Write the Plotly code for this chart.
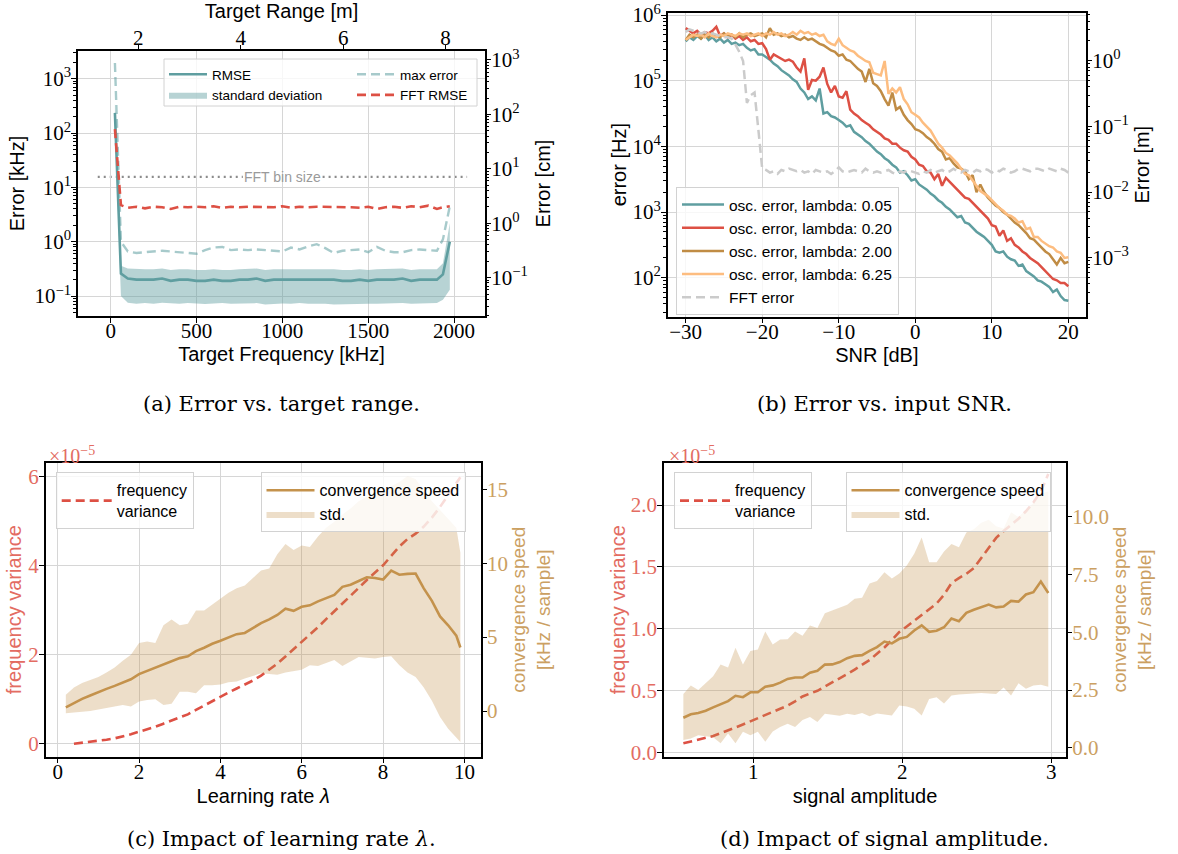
import math
import plotly.graph_objects as go

# ---------------- panel (a): error vs target range ----------------
freq_khz = [25, 60, 100, 150, 200, 250, 300, 350, 400, 450,
            500, 550, 600, 650, 700, 750, 800, 850, 900, 950,
            1000, 1050, 1100, 1150, 1200, 1250, 1300, 1350, 1400, 1450,
            1500, 1550, 1600, 1650, 1700, 1750, 1800, 1850, 1900, 1935, 1975]
rmse_khz = [235, 0.26, 0.21, 0.20, 0.20, 0.20, 0.21, 0.19, 0.20, 0.20,
            0.19, 0.19, 0.20, 0.19, 0.19, 0.20, 0.20, 0.21, 0.19, 0.20,
            0.20, 0.20, 0.20, 0.20, 0.20, 0.20, 0.20, 0.19, 0.19, 0.20,
            0.19, 0.20, 0.20, 0.20, 0.21, 0.19, 0.20, 0.20, 0.20, 0.25, 1.0]
std_low_khz = [120, 0.10, 0.075, 0.072, 0.074, 0.072, 0.075, 0.073, 0.072, 0.074,
               0.072, 0.071, 0.073, 0.074, 0.072, 0.073, 0.072, 0.074, 0.070, 0.072,
               0.073, 0.072, 0.074, 0.072, 0.073, 0.072, 0.070, 0.071, 0.072, 0.073,
               0.072, 0.072, 0.073, 0.072, 0.074, 0.072, 0.073, 0.072, 0.074, 0.085, 0.13]
std_high_khz = [350, 0.36, 0.32, 0.31, 0.31, 0.31, 0.32, 0.30, 0.31, 0.31,
                0.30, 0.30, 0.31, 0.30, 0.30, 0.31, 0.31, 0.32, 0.30, 0.31,
                0.31, 0.31, 0.31, 0.31, 0.31, 0.31, 0.31, 0.30, 0.30, 0.31,
                0.30, 0.31, 0.31, 0.31, 0.32, 0.30, 0.31, 0.31, 0.31, 0.40, 2.2]
max_err_khz = [1950, 1.0, 0.66, 0.62, 0.64, 0.66, 0.68, 0.66, 0.64, 0.63,
               0.60, 0.70, 0.78, 0.80, 0.70, 0.72, 0.70, 0.72, 0.70, 0.68,
               0.66, 0.78, 0.72, 0.82, 0.90, 0.76, 0.62, 0.68, 0.70, 0.72,
               0.64, 0.80, 0.68, 0.64, 0.64, 0.70, 0.72, 0.70, 0.68, 1.10, 4.5]
fft_rmse_khz = [118, 4.7, 4.2, 4.4, 4.1, 4.4, 4.3, 4.0, 4.4, 4.3,
                4.4, 4.3, 4.5, 4.2, 4.4, 4.3, 4.4, 4.4, 4.3, 4.3,
                4.5, 4.2, 4.4, 4.3, 4.4, 4.4, 4.3, 4.4, 4.3, 4.2,
                4.4, 4.0, 4.3, 4.4, 4.2, 4.5, 4.3, 4.6, 4.0, 4.3, 4.5]
fft_bin_khz = 15.625
a_freq_ticks = [0, 500, 1000, 1500, 2000]
a_range_ticks = [2, 4, 6, 8]

# ---------------- panel (b): error vs SNR (log10 of error in Hz) ----------------
snr_db = [-30.0, -29.5, -29.0, -28.5, -28.0, -27.5, -27.0, -26.5, -26.0, -25.5,
          -25.0, -24.5, -24.0, -23.5, -23.0, -22.5, -22.0, -21.5, -21.0, -20.5,
          -20.0, -19.5, -19.0, -18.5, -18.0, -17.5, -17.0, -16.5, -16.0, -15.5,
          -15.0, -14.5, -14.0, -13.5, -13.0, -12.5, -12.0, -11.5, -11.0, -10.5,
          -10.0, -9.5, -9.0, -8.5, -8.0, -7.5, -7.0, -6.5, -6.0, -5.5,
          -5.0, -4.5, -4.0, -3.5, -3.0, -2.5, -2.0, -1.5, -1.0, -0.5,
          0.0, 0.5, 1.0, 1.5, 2.0, 2.5, 3.0, 3.5, 4.0, 4.5,
          5.0, 5.5, 6.0, 6.5, 7.0, 7.5, 8.0, 8.5, 9.0, 9.5,
          10.0, 10.5, 11.0, 11.5, 12.0, 12.5, 13.0, 13.5, 14.0, 14.5,
          15.0, 15.5, 16.0, 16.5, 17.0, 17.5, 18.0, 18.5, 19.0, 19.5,
          20.0]
log_err_l005 = [5.60, 5.66, 5.62, 5.68, 5.64, 5.70, 5.62, 5.66, 5.60, 5.64,
                5.58, 5.62, 5.56, 5.58, 5.54, 5.56, 5.50, 5.46, 5.48, 5.40,
                5.40, 5.36, 5.32, 5.26, 5.22, 5.16, 5.12, 5.08, 5.02, 4.98,
                4.88, 4.82, 4.72, 4.76, 4.70, 4.88, 4.50, 4.52, 4.46, 4.44,
                4.40, 4.36, 4.30, 4.32, 4.22, 4.18, 4.14, 4.08, 4.04, 3.98,
                3.92, 3.88, 3.82, 3.78, 3.72, 3.68, 3.60, 3.62, 3.56, 3.48,
                3.50, 3.42, 3.38, 3.34, 3.28, 3.24, 3.18, 3.14, 3.08, 3.04,
                2.98, 2.92, 2.94, 2.84, 2.82, 2.76, 2.70, 2.66, 2.62, 2.56,
                2.50, 2.40, 2.38, 2.40, 2.32, 2.28, 2.26, 2.18, 2.20, 2.10,
                2.06, 2.02, 1.96, 1.94, 1.90, 1.86, 1.78, 1.82, 1.72, 1.66,
                1.65]
log_err_l020 = [5.80, 5.76, 5.72, 5.76, 5.70, 5.74, 5.72, 5.76, 5.82, 5.68,
                5.72, 5.66, 5.70, 5.64, 5.68, 5.62, 5.66, 5.60, 5.62, 5.56,
                5.57, 5.48, 5.32, 5.40, 5.37, 5.34, 5.30, 5.32, 5.29, 5.20,
                5.14, 5.34, 4.86, 5.01, 5.00, 5.06, 5.20, 4.95, 4.82, 4.92,
                4.76, 4.74, 4.84, 4.56, 4.50, 4.46, 4.40, 4.36, 4.32, 4.26,
                4.22, 4.18, 4.12, 4.10, 4.04, 4.04, 3.98, 3.94, 3.92, 3.84,
                3.80, 3.72, 3.70, 3.62, 3.60, 3.50, 3.58, 3.40, 3.52, 3.46,
                3.40, 3.34, 3.28, 3.22, 3.20, 3.14, 3.08, 3.02, 2.96, 2.90,
                2.80, 2.78, 2.64, 2.72, 2.56, 2.60, 2.50, 2.46, 2.40, 2.36,
                2.30, 2.26, 2.22, 2.16, 2.10, 2.04, 1.98, 1.96, 1.92, 1.92,
                1.87]
log_err_l200 = [5.62, 5.70, 5.66, 5.70, 5.64, 5.70, 5.66, 5.72, 5.68, 5.66,
                5.72, 5.68, 5.70, 5.66, 5.72, 5.66, 5.70, 5.72, 5.68, 5.70,
                5.72, 5.66, 5.80, 5.70, 5.72, 5.68, 5.70, 5.66, 5.68, 5.64,
                5.62, 5.66, 5.62, 5.64, 5.60, 5.56, 5.54, 5.50, 5.46, 5.44,
                5.38, 5.40, 5.32, 5.30, 5.24, 5.18, 5.14, 4.98, 5.18, 4.96,
                4.92, 4.84, 4.72, 4.62, 4.82, 4.56, 4.60, 4.48, 4.40, 4.34,
                4.26, 4.24, 4.20, 4.14, 4.10, 4.04, 3.96, 3.92, 3.80, 3.82,
                3.74, 3.68, 3.66, 3.62, 3.50, 3.56, 3.30, 3.42, 3.30, 3.22,
                3.16, 3.10, 3.06, 3.00, 2.96, 2.90, 2.84, 2.80, 2.74, 2.68,
                2.60, 2.58, 2.52, 2.46, 2.40, 2.36, 2.28, 2.20, 2.30, 2.22,
                2.24]
log_err_l625 = [5.62, 5.66, 5.70, 5.68, 5.70, 5.66, 5.72, 5.68, 5.66, 5.70,
                5.68, 5.72, 5.70, 5.68, 5.72, 5.70, 5.72, 5.68, 5.70, 5.72,
                5.68, 5.72, 5.70, 5.74, 5.70, 5.72, 5.68, 5.70, 5.74, 5.70,
                5.76, 5.72, 5.74, 5.70, 5.72, 5.68, 5.70, 5.60, 5.56, 5.54,
                5.64, 5.54, 5.50, 5.46, 5.44, 5.38, 5.34, 5.30, 5.28, 5.12,
                5.10, 5.08, 5.30, 4.80, 4.88, 4.82, 4.90, 4.72, 4.64, 4.52,
                4.48, 4.44, 4.36, 4.30, 4.24, 4.14, 4.04, 3.98, 3.90, 3.86,
                3.80, 3.74, 3.66, 3.58, 3.56, 3.48, 3.40, 3.32, 3.28, 3.24,
                3.18, 3.12, 3.06, 3.02, 2.96, 2.94, 2.90, 2.84, 2.86, 2.74,
                2.76, 2.62, 2.62, 2.56, 2.52, 2.48, 2.46, 2.40, 2.38, 2.30,
                2.31]
log_err_fft = [5.74, 5.78, 5.76, 5.74, 5.72, 5.74, 5.70, 5.72, 5.70, 5.68,
               5.66, 5.66, 5.64, 5.55, 5.44, 5.30, 4.66, 4.78, 4.82, 4.25,
               3.66, 3.64, 3.60, 3.62, 3.58, 3.64, 3.62, 3.66, 3.64, 3.62,
               3.64, 3.60, 3.62, 3.58, 3.64, 3.62, 3.60, 3.62, 3.58, 3.62,
               3.68, 3.62, 3.60, 3.62, 3.64, 3.62, 3.60, 3.66, 3.62, 3.60,
               3.62, 3.60, 3.62, 3.64, 3.60, 3.58, 3.62, 3.60, 3.64, 3.62,
               3.60, 3.58, 3.62, 3.60, 3.64, 3.60, 3.62, 3.64, 3.60, 3.62,
               3.66, 3.62, 3.60, 3.64, 3.62, 3.60, 3.64, 3.62, 3.66, 3.64,
               3.60, 3.64, 3.62, 3.66, 3.64, 3.60, 3.62, 3.66, 3.66, 3.64,
               3.62, 3.66, 3.66, 3.64, 3.62, 3.66, 3.64, 3.62, 3.66, 3.64,
               3.60]
b_series_names = ["osc. error, lambda: 0.05", "osc. error, lambda: 0.20",
                  "osc. error, lambda: 2.00", "osc. error, lambda: 6.25", "FFT error"]
b_snr_ticks = [-30, -20, -10, 0, 10, 20]

# ---------------- panel (c): impact of learning rate ----------------
learning_rate = [0.2, 0.4, 0.6, 0.8, 1.0, 1.2, 1.4, 1.6, 1.8, 2.0,
                 2.2, 2.4, 2.6, 2.8, 3.0, 3.2, 3.4, 3.6, 3.8, 4.0,
                 4.2, 4.4, 4.6, 4.8, 5.0, 5.2, 5.4, 5.6, 5.8, 6.0,
                 6.2, 6.4, 6.6, 6.8, 7.0, 7.2, 7.4, 7.6, 7.8, 8.0,
                 8.2, 8.4, 8.6, 8.8, 9.0, 9.2, 9.4, 9.6, 9.8, 9.9]
lr_conv_speed = [0.25, 0.55, 0.82, 1.05, 1.30, 1.50, 1.70, 1.95, 2.15, 2.50,
                 2.72, 2.90, 3.12, 3.38, 3.58, 3.70, 4.05, 4.28, 4.55, 4.75,
                 4.95, 5.20, 5.28, 5.60, 5.95, 6.20, 6.50, 6.92, 6.78, 7.05,
                 7.15, 7.42, 7.62, 7.85, 8.40, 8.55, 8.80, 9.05, 9.00, 8.90,
                 9.50, 9.22, 9.28, 9.30, 8.30, 7.45, 6.40, 5.80, 5.10, 4.30]
lr_conv_std_high = [1.1, 1.6, 1.9, 2.1, 2.3, 2.6, 2.95, 3.4, 3.8, 4.6,
                    4.7, 4.6, 5.8, 6.2, 5.8, 5.9, 6.8, 6.8, 7.2, 7.6,
                    8.0, 8.3, 8.5, 9.0, 9.5, 9.65, 10.6, 11.3, 10.9, 11.2,
                    11.1, 11.8, 12.4, 12.8, 13.3, 13.7, 14.2, 14.5, 14.6, 14.8,
                    15.2, 15.5, 15.9, 15.7, 14.9, 14.2, 13.6, 13.0, 12.4, 10.7]
lr_conv_std_low = [-0.15, -0.08, -0.05, 0.0, 0.1, 0.25, 0.35, 0.4, 0.3, 0.65,
                   0.75, 0.8, 0.4, 0.5, 1.3, 1.3, 1.2, 1.75, 1.75, 1.8,
                   1.95, 2.0, 2.2, 2.35, 2.55, 2.5, 2.45, 2.6, 2.7, 2.8,
                   3.1, 3.05, 3.25, 3.45, 3.05, 3.35, 3.65, 3.6, 3.55, 3.65,
                   3.7, 3.1, 2.6, 2.3, 1.6, 0.7, -0.4, -1.2, -1.8, -2.1]
# frequency variance (units of 1e-5), starting at lambda = 0.4
lr_var_rate = [0.4, 0.6, 0.8, 1.0, 1.2, 1.4, 1.6, 1.8, 2.0,
               2.2, 2.4, 2.6, 2.8, 3.0, 3.2, 3.4, 3.6, 3.8, 4.0,
               4.2, 4.4, 4.6, 4.8, 5.0, 5.2, 5.4, 5.6, 5.8, 6.0,
               6.2, 6.4, 6.6, 6.8, 7.0, 7.2, 7.4, 7.6, 7.8, 8.0,
               8.2, 8.4, 8.6, 8.8, 9.0, 9.2, 9.4, 9.6, 9.8, 9.9]
lr_freq_var_e5 = [0.00, 0.02, 0.04, 0.06, 0.09, 0.12, 0.16, 0.21, 0.27,
                  0.32, 0.38, 0.45, 0.52, 0.58, 0.66, 0.76, 0.86, 0.96, 1.06,
                  1.15, 1.24, 1.33, 1.42, 1.53, 1.66, 1.80, 1.96, 2.12, 2.29,
                  2.45, 2.62, 2.80, 2.97, 3.15, 3.32, 3.50, 3.68, 3.85, 4.01,
                  4.22, 4.43, 4.60, 4.72, 4.88, 5.08, 5.32, 5.58, 5.85, 5.99]
c_x_ticks = [0, 2, 4, 6, 8, 10]
c_left_ticks = [0, 2, 4, 6]
c_right_ticks = [0, 5, 10, 15]

# ---------------- panel (d): impact of signal amplitude ----------------
amplitude = [0.53, 0.58, 0.63, 0.68, 0.73, 0.78, 0.83, 0.88, 0.93, 0.98,
             1.03, 1.08, 1.13, 1.18, 1.23, 1.28, 1.33, 1.38, 1.43, 1.48,
             1.53, 1.58, 1.63, 1.68, 1.73, 1.78, 1.83, 1.88, 1.93, 1.98,
             2.03, 2.08, 2.13, 2.18, 2.23, 2.28, 2.33, 2.38, 2.43, 2.48,
             2.53, 2.58, 2.63, 2.68, 2.73, 2.78, 2.83, 2.88, 2.93, 2.98]
amp_conv_speed = [1.30, 1.45, 1.50, 1.60, 1.75, 1.90, 2.02, 2.25, 2.19, 2.40,
                  2.40, 2.64, 2.70, 2.82, 2.98, 3.04, 3.04, 3.25, 3.33, 3.60,
                  3.61, 3.71, 3.88, 3.98, 4.01, 4.20, 4.36, 4.60, 4.52, 4.72,
                  4.80, 5.08, 5.30, 5.02, 5.07, 5.22, 5.60, 5.48, 5.84, 5.98,
                  6.10, 6.20, 6.08, 6.12, 6.36, 6.33, 6.64, 6.74, 7.20, 6.70]
amp_conv_std_high = [2.33, 2.69, 2.50, 2.80, 3.10, 3.61, 3.47, 4.33, 3.61, 4.19,
                     4.26, 5.04, 4.47, 4.69, 4.70, 5.04, 4.85, 5.30, 5.19, 5.83,
                     5.95, 6.04, 6.19, 6.45, 6.50, 7.11, 7.22, 7.60, 7.33, 7.55,
                     7.90, 8.40, 9.11, 8.04, 8.04, 8.50, 8.83, 8.69, 9.33, 9.47,
                     9.75, 9.88, 9.60, 9.50, 10.2, 10.0, 10.3, 10.6, 11.0, 11.1]
amp_conv_std_low = [0.33, 0.40, 0.54, 0.50, 0.45, 0.19, 0.61, 0.19, 0.69, 0.54,
                    0.69, 0.26, 0.70, 0.90, 1.04, 0.90, 1.20, 1.33, 1.11, 1.47,
                    1.42, 1.38, 1.47, 1.42, 1.50, 1.36, 1.48, 1.45, 1.40, 1.83,
                    1.79, 1.69, 1.40, 2.11, 2.19, 1.92, 2.26, 2.30, 2.33, 2.35,
                    2.37, 2.35, 2.33, 2.61, 2.26, 2.79, 2.55, 2.69, 2.73, 2.64]
amp_freq_var_e5 = [0.076, 0.09, 0.105, 0.12, 0.135, 0.157, 0.178, 0.204, 0.228, 0.255,
                   0.28, 0.305, 0.33, 0.355, 0.38, 0.415, 0.454, 0.478, 0.50, 0.535,
                   0.567, 0.60, 0.635, 0.672, 0.708, 0.748, 0.80, 0.85, 0.91, 0.975,
                   1.02, 1.065, 1.11, 1.16, 1.205, 1.275, 1.37, 1.41, 1.445, 1.49,
                   1.57, 1.65, 1.735, 1.79, 1.84, 1.89, 1.95, 2.02, 2.11, 2.25]
d_x_ticks = [1, 2, 3]
d_left_ticks = [0.0, 0.5, 1.0, 1.5, 2.0]
d_right_ticks = [0.0, 2.5, 5.0, 7.5, 10.0]

# ---------------- styling ----------------
W, H = 1178, 854
SANS = "Liberation Sans"
SERIF = "Liberation Serif"
CAPF = "DejaVu Serif"
TEAL = "#5f9ea0"
TEAL_FILL = "rgba(95,158,160,0.45)"
TEAL_LIGHT = "rgba(95,158,160,0.55)"
RED = "#dd5044"
BROWN = "#c08c45"
ORANGE = "#fdbd80"
GRAY = "#cbcbcb"
TAN = "#c4924c"
TAN_FILL = "rgba(196,146,76,0.3)"
SALMON = "#e36c62"
TAN_TEXT = "#cba062"
GRID = "#d6d6d6"
X_LBL_SHIFT = -10
Y_LBL_SHIFT = -4


def pxx(p):
    return p / W


def pxy(p):
    return 1 - p / H


def sup_label(v):
    e = int(round(math.log10(v)))
    return "10<sup>" + ("\u2212" if e < 0 else "") + str(abs(e)) + "</sup>"


def minor_vals(lo, hi):
    return [m * 10 ** e for e in range(lo, hi) for m in range(2, 10)]


def axis(**kw):
    d = dict(showline=True, linecolor="black", linewidth=1.5, ticks="outside",
             ticklen=5, tickwidth=1.2, tickcolor="black", zeroline=False,
             showgrid=False, gridcolor=GRID, gridwidth=1.2, automargin=False,
             ticklabeloverflow="allow",
             tickfont=dict(family=SERIF, size=21, color="black"))
    d.update(kw)
    return d


def title(text, standoff, color="black", size=20):
    return dict(text=text, standoff=standoff, font=dict(family=SANS, size=size, color=color))


fig = go.Figure()

# ---- panel (a)
fig.add_trace(go.Scatter(x=freq_khz, y=std_low_khz, mode="lines", line=dict(width=0, color=TEAL_FILL),
                         showlegend=False, hoverinfo="skip", xaxis="x", yaxis="y"))
fig.add_trace(go.Scatter(x=freq_khz, y=std_high_khz, mode="lines", line=dict(width=0, color=TEAL_FILL),
                         fill="tonexty", fillcolor=TEAL_FILL, name="standard deviation",
                         legend="legend", legendrank=2, xaxis="x", yaxis="y"))
fig.add_trace(go.Scatter(x=freq_khz, y=rmse_khz, mode="lines", line=dict(color=TEAL, width=2.6),
                         name="RMSE", legend="legend", legendrank=1, xaxis="x", yaxis="y"))
fig.add_trace(go.Scatter(x=freq_khz, y=max_err_khz, mode="lines",
                         line=dict(color=TEAL_LIGHT, width=2.4, dash="9px,5px"),
                         name="max error", legend="legend2", legendrank=1, xaxis="x", yaxis="y"))
fig.add_trace(go.Scatter(x=freq_khz, y=fft_rmse_khz, mode="lines",
                         line=dict(color=RED, width=2.6, dash="9px,5px"),
                         name="FFT RMSE", legend="legend2", legendrank=2, xaxis="x", yaxis="y"))
fig.add_trace(go.Scatter(x=[], y=[], xaxis="x", yaxis="y2", showlegend=False, hoverinfo="skip"))
fig.add_trace(go.Scatter(x=[], y=[], xaxis="x5", yaxis="y", showlegend=False, hoverinfo="skip"))

# ---- panel (b)
b_logs = [log_err_l005, log_err_l020, log_err_l200, log_err_l625, log_err_fft]
b_colors = [TEAL, RED, BROWN, ORANGE, GRAY]
for lg, col, nm in zip(b_logs, b_colors, b_series_names):
    fig.add_trace(go.Scatter(x=snr_db, y=[10 ** v for v in lg], mode="lines",
                             line=dict(color=col, width=2.5, dash="9px,5px" if nm == "FFT error" else None),
                             name=nm, legend="legend3", xaxis="x2", yaxis="y3"))
fig.add_trace(go.Scatter(x=[], y=[], xaxis="x2", yaxis="y4", showlegend=False, hoverinfo="skip"))

# ---- panel (c)
fig.add_trace(go.Scatter(x=lr_var_rate, y=lr_freq_var_e5, mode="lines",
                         line=dict(color=RED, width=2.6, dash="9px,5px"),
                         name="frequency<br>variance", legend="legend4", xaxis="x3", yaxis="y5"))
fig.add_trace(go.Scatter(x=learning_rate, y=lr_conv_std_low, mode="lines", line=dict(width=0, color=TAN_FILL),
                         showlegend=False, hoverinfo="skip", xaxis="x3", yaxis="y6"))
fig.add_trace(go.Scatter(x=learning_rate, y=lr_conv_std_high, mode="lines", line=dict(width=0, color=TAN_FILL),
                         fill="tonexty", fillcolor=TAN_FILL, name="std.", legend="legend5", legendrank=2,
                         xaxis="x3", yaxis="y6"))
fig.add_trace(go.Scatter(x=learning_rate, y=lr_conv_speed, mode="lines", line=dict(color=TAN, width=2.6),
                         name="convergence speed", legend="legend5", legendrank=1, xaxis="x3", yaxis="y6"))

# ---- panel (d)
fig.add_trace(go.Scatter(x=amplitude, y=amp_freq_var_e5, mode="lines",
                         line=dict(color=RED, width=2.6, dash="9px,5px"),
                         name="frequency<br>variance", legend="legend6", xaxis="x4", yaxis="y7"))
fig.add_trace(go.Scatter(x=amplitude, y=amp_conv_std_low, mode="lines", line=dict(width=0, color=TAN_FILL),
                         showlegend=False, hoverinfo="skip", xaxis="x4", yaxis="y8"))
fig.add_trace(go.Scatter(x=amplitude, y=amp_conv_std_high, mode="lines", line=dict(width=0, color=TAN_FILL),
                         fill="tonexty", fillcolor=TAN_FILL, name="std.", legend="legend7", legendrank=2,
                         xaxis="x4", yaxis="y8"))
fig.add_trace(go.Scatter(x=amplitude, y=amp_conv_speed, mode="lines", line=dict(color=TAN, width=2.6),
                         name="convergence speed", legend="legend7", legendrank=1, xaxis="x4", yaxis="y8"))

# ---------------- layout ----------------
a_dom_x = [pxx(78), pxx(485)]
a_dom_y = [pxy(316), pxy(51)]
b_dom_x = [pxx(667.7), pxx(1086)]
b_dom_y = [pxy(316.7), pxy(12.7)]
c_dom_x = [pxx(45.7), pxx(480.7)]
d_dom_x = [pxx(664), pxx(1066)]
cd_dom_y = [pxy(756.7), pxy(462.7)]

a_left_ticks = [0.1, 1, 10, 100, 1000]
b_left_ticks = [1e2, 1e3, 1e4, 1e5, 1e6]
b_right_ticks = [1e-3, 1e-2, 1e-1, 1]
minor_tick = dict(ticks="outside", ticklen=3, tickwidth=0.8, tickcolor="black", showgrid=False)

layout = dict(
    width=W, height=H, template="none", paper_bgcolor="white", plot_bgcolor="white",
    margin=dict(l=0, r=0, t=0, b=0), hovermode=False,
    xaxis=axis(domain=a_dom_x, anchor="y", range=[-190, 2180], mirror=True, showgrid=True,
               tickmode="array", tickvals=a_freq_ticks, ticklabelstandoff=X_LBL_SHIFT,
               title=title("Target Frequency [kHz]", 5)),
    xaxis5=axis(overlaying="x", anchor="y", side="top", range=[0.822, 8.77], showline=False,
                tickmode="array", tickvals=a_range_ticks, ticklabelstandoff=-8,
                title=title("Target Range [m]", 5)),
    yaxis=axis(domain=a_dom_y, anchor="x", type="log", range=[-1.368, 3.51], mirror=True, showgrid=True,
               tickmode="array", tickvals=a_left_ticks, ticktext=[sup_label(v) for v in a_left_ticks],
               minor=dict(tickmode="array", tickvals=minor_vals(-2, 4), **minor_tick),
               ticklabelstandoff=Y_LBL_SHIFT, title=title("Error [kHz]", 4)),
    yaxis2=axis(overlaying="y", anchor="x", side="right", type="log", range=[-1.704, 3.165], showline=False,
                tickmode="array", tickvals=a_left_ticks, ticktext=[sup_label(v) for v in a_left_ticks],
                minor=dict(tickmode="array", tickvals=minor_vals(-2, 4), **minor_tick),
                ticklabelstandoff=Y_LBL_SHIFT, title=title("Error [cm]", 9)),
    xaxis2=axis(domain=b_dom_x, anchor="y3", range=[-32.35, 22.31], mirror=True, showgrid=True,
                tickmode="array", tickvals=b_snr_ticks, ticklabelstandoff=X_LBL_SHIFT,
                title=title("SNR [dB]", 5)),
    yaxis3=axis(domain=b_dom_y, anchor="x2", type="log", range=[1.406, 6.035], mirror=True, showgrid=True,
                tickmode="array", tickvals=b_left_ticks, ticktext=[sup_label(v) for v in b_left_ticks],
                minor=dict(tickmode="array", tickvals=minor_vals(1, 7), **minor_tick),
                ticklabelstandoff=Y_LBL_SHIFT, title=title("error [Hz]", 0)),
    yaxis4=axis(overlaying="y3", anchor="x2", side="right", type="log", range=[-3.898, 0.731], showline=False,
                tickmode="array", tickvals=b_right_ticks, ticktext=[sup_label(v) for v in b_right_ticks],
                minor=dict(tickmode="array", tickvals=minor_vals(-4, 1), **minor_tick),
                ticklabelstandoff=Y_LBL_SHIFT, title=title("Error [m]", 7)),
    xaxis3=axis(domain=c_dom_x, anchor="y5", range=[-0.295, 10.4], mirror=True, showgrid=True,
                tickmode="array", tickvals=c_x_ticks, ticklabelstandoff=X_LBL_SHIFT,
                title=title("Learning rate <i>\u03bb</i>", 6)),
    yaxis5=axis(domain=cd_dom_y, anchor="x3", range=[-0.292, 6.315], mirror=True, showgrid=True,
                tickmode="array", tickvals=c_left_ticks, ticklabelstandoff=Y_LBL_SHIFT,
                tickfont=dict(family=SERIF, size=21, color=SALMON),
                title=title("frequency variance", 1, SALMON)),
    yaxis6=axis(overlaying="y5", anchor="x3", side="right", range=[-3.09, 16.8], showline=False,
                tickmode="array", tickvals=c_right_ticks, ticklabelstandoff=Y_LBL_SHIFT,
                tickfont=dict(family=SERIF, size=21, color=TAN_TEXT),
                title=title("convergence speed<br>[kHz / sample]", 0, TAN_TEXT, 19)),
    xaxis4=axis(domain=d_dom_x, anchor="y7", range=[0.40, 3.099], mirror=True, showgrid=True,
                tickmode="array", tickvals=d_x_ticks, ticklabelstandoff=X_LBL_SHIFT,
                title=title("signal amplitude", 6)),
    yaxis7=axis(domain=cd_dom_y, anchor="x4", range=[-0.032, 2.342], mirror=True, showgrid=True,
                tickmode="array", tickvals=d_left_ticks, tickformat=".1f", ticklabelstandoff=Y_LBL_SHIFT,
                tickfont=dict(family=SERIF, size=21, color=SALMON),
                title=title("frequency variance", 0, SALMON)),
    yaxis8=axis(overlaying="y7", anchor="x4", side="right", range=[-0.39, 12.35], showline=False,
                tickmode="array", tickvals=d_right_ticks, tickformat=".1f", ticklabelstandoff=Y_LBL_SHIFT,
                tickfont=dict(family=SERIF, size=21, color=TAN_TEXT),
                title=title("convergence speed<br>[kHz / sample]", 0, TAN_TEXT, 19)),
)

clear = "rgba(0,0,0,0)"
box_bg = "rgba(255,255,255,0.8)"
box_line = "#d2d2d2"


def legend(x, y, size, bg=box_bg, bw=1, **kw):
    d = dict(x=pxx(x), y=pxy(y), xanchor="left", yanchor="top", bgcolor=bg, bordercolor=box_line,
             borderwidth=bw, font=dict(family=SANS, size=size, color="black"), orientation="v",
             traceorder="normal")
    d.update(kw)
    return d


layout["legend"] = legend(164, 59, 13.5, bg=clear, bw=0, itemwidth=38)
layout["legend2"] = legend(352, 59, 13.5, bg=clear, bw=0, itemwidth=38)
layout["legend3"] = legend(676, 187, 15.5, itemwidth=42)
layout["legend4"] = legend(55.7, 472.3, 16, itemwidth=50)
layout["legend5"] = legend(260.5, 472.3, 16, itemwidth=48)
layout["legend6"] = legend(674, 472.3, 16, itemwidth=50)
layout["legend7"] = legend(845.5, 472.3, 16, itemwidth=48)

shapes = [
    dict(type="line", xref="x domain", yref="y", x0=0.0485, x1=0.405, y0=fft_bin_khz, y1=fft_bin_khz,
         line=dict(color="#8c8c8c", width=2.2, dash="2px,4px"), layer="below"),
    dict(type="line", xref="x domain", yref="y", x0=0.601, x1=0.956, y0=fft_bin_khz, y1=fft_bin_khz,
         line=dict(color="#8c8c8c", width=2.2, dash="2px,4px"), layer="below"),
    dict(type="rect", xref="paper", yref="paper", x0=pxx(164), x1=pxx(477), y0=pxy(106), y1=pxy(59),
         fillcolor=box_bg, line=dict(color=box_line, width=1), layer="above"),
]
layout["shapes"] = shapes

annotations = [
    dict(x=1000, y=math.log10(fft_bin_khz), xref="x", yref="y", text="FFT bin size", showarrow=False,
         font=dict(family=SANS, size=14, color="#9a9a9a")),
    dict(x=pxx(46.7), y=pxy(455), xref="paper", yref="paper", text="\u00d710<sup>\u22125</sup>",
         showarrow=False, xanchor="left", yanchor="middle", font=dict(family=SERIF, size=20, color=SALMON)),
    dict(x=pxx(666.7), y=pxy(455), xref="paper", yref="paper", text="\u00d710<sup>\u22125</sup>",
         showarrow=False, xanchor="left", yanchor="middle", font=dict(family=SERIF, size=20, color=SALMON)),
]
captions = [("(a) Error vs. target range.", 281, 404), ("(b) Error vs. input SNR.", 884, 404),
            ("(c) Impact of learning rate <i>\u03bb</i>.", 281, 838.7),
            ("(d) Impact of signal amplitude.", 884, 838.7)]
for txt, cx, cy in captions:
    annotations.append(dict(x=pxx(cx), y=pxy(cy), xref="paper", yref="paper", text=txt, showarrow=False,
                            xanchor="center", yanchor="middle", font=dict(family=CAPF, size=21, color="black")))
layout["annotations"] = annotations

fig.update_layout(**layout)
# remove the default 8px page margin so the figure starts at the window's top-left corner
fig.write_html("out.html", config={"displayModeBar": False},
               post_script="document.body.style.margin='0px';")
